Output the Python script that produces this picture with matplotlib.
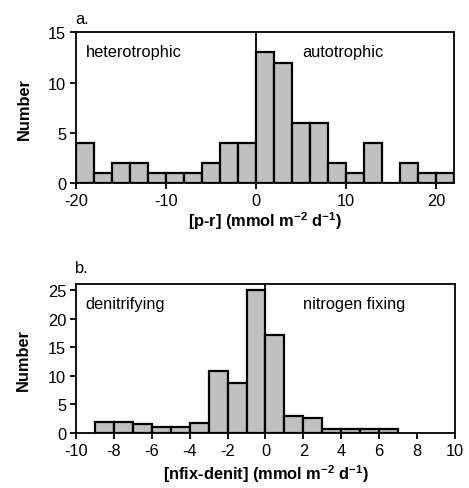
import numpy as np
import matplotlib
matplotlib.use("Agg")
import matplotlib.pyplot as plt

plt.rcParams["font.family"] = ["Liberation Sans", "DejaVu Sans"]
plt.rcParams["mathtext.fontset"] = "custom"
plt.rcParams["mathtext.rm"] = "Liberation Sans"
plt.rcParams["mathtext.bf"] = "Liberation Sans:bold"
plt.rcParams["axes.unicode_minus"] = False

# Net community production [p-r], bins 2 mmol m-2 d-1 wide
pr_left_edges = list(range(-20, 22, 2))
pr_counts = [4, 1, 2, 2, 1, 1, 1, 2, 4, 4, 13, 12, 6, 6, 2, 1, 4, 0, 2, 1, 1]

# Nitrogen fixation minus denitrification, bins 1 mmol m-2 d-1 wide
nd_left_edges = list(range(-9, 7, 1))
nd_counts = [1.95, 1.95, 1.65, 1.0, 1.0, 1.7, 10.9, 8.8, 25.0, 17.2,
             3.0, 2.6, 0.7, 0.7, 0.7, 0.7]

fig = plt.figure(figsize=(4.69, 4.89), dpi=100)
ax1 = fig.add_axes([0.162, 0.6237, 0.806, 0.308])
ax2 = fig.add_axes([0.162, 0.1125, 0.808, 0.304])

bar_kw = dict(align="edge", color="#c0c0c0", edgecolor="black", linewidth=1.6)
fs = 11.8


def style(ax):
    for s in ax.spines.values():
        s.set_linewidth(1.3)
    ax.tick_params(direction="out", length=4, width=1.3, labelsize=fs, pad=3)
    ax.tick_params(axis="x", top=False)
    ax.tick_params(axis="y", right=False)


# Panel a
ax1.bar(pr_left_edges, pr_counts, width=2, **bar_kw, zorder=2)
ax1.axvline(0, color="black", linewidth=1.3, zorder=3)
ax1.set_xlim(-20, 22)
ax1.set_ylim(0, 15)
ax1.set_xticks([-20, -10, 0, 10, 20])
ax1.set_yticks([0, 5, 10, 15])
style(ax1)
ax1.set_ylabel("Number", fontsize=fs, fontweight="bold", labelpad=12)
ax1.set_xlabel(r"[p-r] (mmol m$^{\mathbf{-2}}$ d$^{\mathbf{-1}}$)",
               fontsize=fs, fontweight="bold", labelpad=1)
ax1.text(0.025, 0.87, "heterotrophic", transform=ax1.transAxes,
         fontsize=fs, va="center", ha="left")
ax1.text(0.598, 0.87, "autotrophic", transform=ax1.transAxes,
         fontsize=fs, va="center", ha="left")
ax1.text(-0.002, 1.09, "a.", transform=ax1.transAxes,
         fontsize=fs, va="center", ha="left")

# Panel b
ax2.bar(nd_left_edges, nd_counts, width=1, **bar_kw, zorder=2)
ax2.axvline(0, color="black", linewidth=1.3, zorder=3)
ax2.set_xlim(-10, 10)
ax2.set_ylim(0, 26)
ax2.set_xticks(np.arange(-10, 11, 2))
ax2.set_yticks([0, 5, 10, 15, 20, 25])
style(ax2)
ax2.set_ylabel("Number", fontsize=fs, fontweight="bold", labelpad=12)
ax2.set_xlabel(r"[nfix-denit] (mmol m$^{\mathbf{-2}}$ d$^{\mathbf{-1}}$)",
               fontsize=fs, fontweight="bold", labelpad=3)
ax2.text(0.025, 0.87, "denitrifying", transform=ax2.transAxes,
         fontsize=fs, va="center", ha="left")
ax2.text(0.598, 0.87, "nitrogen fixing", transform=ax2.transAxes,
         fontsize=fs, va="center", ha="left")
ax2.text(-0.002, 1.11, "b.", transform=ax2.transAxes,
         fontsize=fs, va="center", ha="left")

fig.savefig("out.png", dpi=100)
